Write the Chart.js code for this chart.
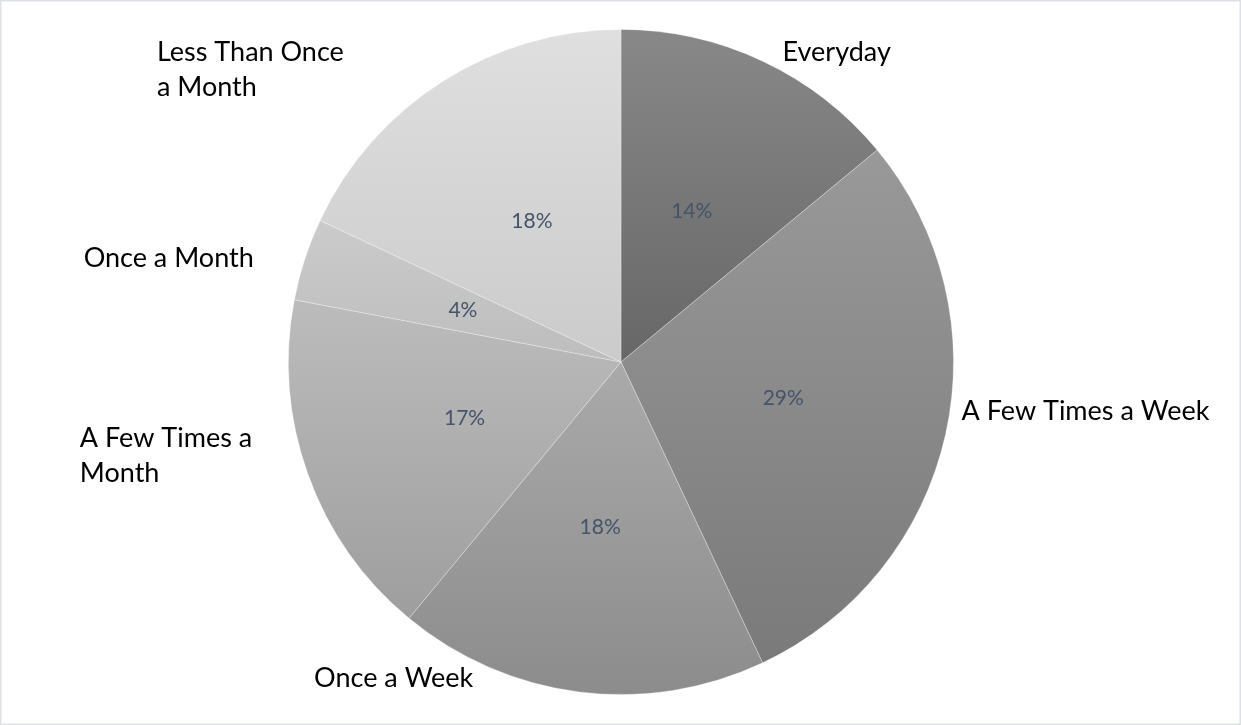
<!DOCTYPE html>
<html>
<head>
<meta charset="utf-8">
<script src="https://cdn.jsdelivr.net/npm/chart.js@4/dist/chart.umd.min.js"></script>
<style>
  html, body { margin: 0; padding: 0; background: #fff; }
  #wrap { width: 1241px; height: 725px; position: relative; }
</style>
</head>
<body>
<div id="wrap"><canvas id="c" width="1241" height="725"></canvas></div>
<script>
// How often respondents do it
const categories = ['Everyday', 'A Few Times a Week', 'Once a Week', 'A Few Times a Month', 'Once a Month', 'Less Than Once a Month'];
const shares = [14, 29, 18, 17, 4, 18];
const percentLabels = ['14%', '29%', '18%', '17%', '4%', '18%'];
const categoryLines = [['Everyday'], ['A Few Times a Week'], ['Once a Week'], ['A Few Times a', 'Month'], ['Once a Month'], ['Less Than Once', 'a Month']];

// Slice shading: vertical gradient, lighter at the top of each slice
const topShades = ['#888888', '#999999', '#aaaaaa', '#bcbcbc', '#cbcbcb', '#dfdfdf'];
const bottomShades = ['#676767', '#7a7a7a', '#8c8c8c', '#9e9e9e', '#bdbdbd', '#cbcbcb'];

// Category label offsets from the outer edge of the slice (at its mid angle)
const labelOffsets = [
  { dx: 20, dy: -9, side: 'left' },
  { dx: 16, dy: -23, side: 'left' },
  { dx: -106, dy: -14, side: 'right' },
  { dx: -56, dy: -19, side: 'right' },
  { dx: -51, dy: -1, side: 'right' },
  { dx: -99, dy: -11, side: 'right' }
];

const LABEL_FONT = '27px Lato';
const PCT_FONT = '21px Lato';
const LINE_H = 35;

function sliceGradient(ctx) {
  const chart = ctx.chart;
  const area = chart.chartArea;
  const i = ctx.dataIndex;
  if (!area || i === undefined) return topShades[i || 0];
  const cx = (area.left + area.right) / 2;
  const cy = (area.top + area.bottom) / 2;
  const r = Math.min(area.width, area.height) / 2;
  const total = shares.reduce((a, b) => a + b, 0);
  let before = 0;
  for (let k = 0; k < i; k++) before += shares[k];
  const a0 = before / total * 2 * Math.PI;
  const a1 = (before + shares[i]) / total * 2 * Math.PI;
  const ys = [cy, cy - r * Math.cos(a0), cy - r * Math.cos(a1)];
  if (a0 <= 0 && a1 >= 0) ys.push(cy - r);
  if (a0 <= Math.PI && a1 >= Math.PI) ys.push(cy + r);
  const top = Math.min(...ys), bottom = Math.max(...ys);
  const g = chart.ctx.createLinearGradient(0, top, 0, bottom);
  g.addColorStop(0, topShades[i]);
  g.addColorStop(1, bottomShades[i]);
  return g;
}

const labelsPlugin = {
  id: 'sliceLabels',
  afterDatasetsDraw(chart) {
    const ctx = chart.ctx;
    const arcs = chart.getDatasetMeta(0).data;
    ctx.save();
    arcs.forEach((arc, i) => {
      const { x, y, startAngle, endAngle, outerRadius } = arc.getProps(['x', 'y', 'startAngle', 'endAngle', 'outerRadius'], true);
      const mid = (startAngle + endAngle) / 2;
      // percentage inside the slice
      ctx.font = PCT_FONT;
      ctx.fillStyle = '#44546a';
      ctx.textAlign = 'center';
      ctx.textBaseline = 'middle';
      ctx.fillText(percentLabels[i], x + Math.cos(mid) * outerRadius * 0.5, y + Math.sin(mid) * outerRadius * 0.5);
      // category name outside
      const off = labelOffsets[i];
      const ax = x + Math.cos(mid) * outerRadius + off.dx;
      const ay = y + Math.sin(mid) * outerRadius + off.dy;
      ctx.font = LABEL_FONT;
      ctx.fillStyle = '#000000';
      ctx.textAlign = 'left';
      const lines = categoryLines[i];
      const w = Math.max(...lines.map(l => ctx.measureText(l).width));
      const left = off.side === 'left' ? ax : ax - w;
      const firstY = ay - (lines.length - 1) * LINE_H / 2;
      lines.forEach((l, k) => ctx.fillText(l, left, firstY + k * LINE_H));
    });
    ctx.restore();
  }
};

const framePlugin = {
  id: 'frame',
  beforeDraw(chart) {
    const ctx = chart.ctx;
    ctx.save();
    ctx.fillStyle = '#ffffff';
    ctx.fillRect(0, 0, chart.width, chart.height);
    ctx.restore();
  },
  afterDraw(chart) {
    const ctx = chart.ctx;
    ctx.save();
    ctx.strokeStyle = '#dde1e7';
    ctx.lineWidth = 1.5;
    ctx.strokeRect(0.75, 0.75, chart.width - 1.5, chart.height - 1.5);
    ctx.restore();
  }
};

new Chart(document.getElementById('c'), {
  type: 'pie',
  data: {
    labels: categories,
    datasets: [{
      data: shares,
      backgroundColor: sliceGradient,
      borderColor: 'rgba(255,255,255,0.28)',
      borderWidth: 1,
      hoverOffset: 0
    }]
  },
  options: {
    responsive: false,
    animation: false,
    devicePixelRatio: 1,
    layout: { padding: { top: 29, bottom: 30, left: 1, right: 0 } },
    plugins: {
      legend: { display: false },
      tooltip: { enabled: false }
    },
    events: []
  },
  plugins: [framePlugin, labelsPlugin]
});
</script>
</body>
</html>
